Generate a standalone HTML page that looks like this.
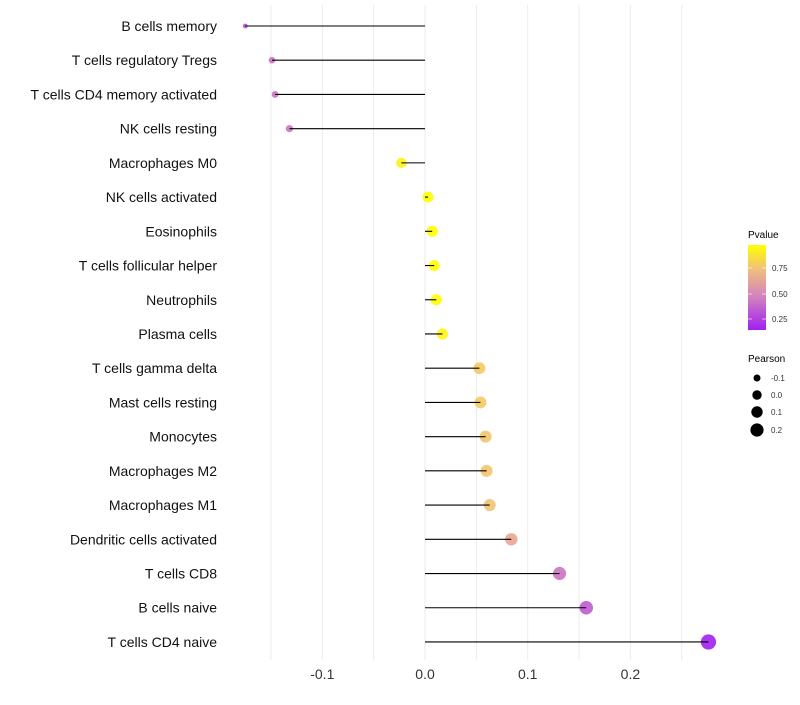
<!DOCTYPE html>
<html><head><meta charset="utf-8"><style>
body{margin:0;background:#fff;font-family:"Liberation Sans",sans-serif}
</style></head><body>
<svg id="chart" width="800" height="700" xmlns="http://www.w3.org/2000/svg">
<defs><linearGradient id="pg" x1="0" y1="1" x2="0" y2="0">
<stop offset="0" stop-color="#a020f0"/><stop offset="0.38" stop-color="#d080c0"/><stop offset="0.7" stop-color="#f0bc80"/><stop offset="1" stop-color="#ffff00"/></linearGradient></defs>
<g id="grid"></g><g id="points"></g><g id="marks"></g><g id="labels"></g>
<g>
<text x="748" y="238" font-size="10">Pvalue</text>
<rect x="748" y="245" width="18" height="85" fill="url(#pg)"/>
<g font-size="8" fill="#333">
<text x="772" y="271">0.75</text><text x="772" y="297">0.50</text><text x="772" y="322">0.25</text></g>
<g stroke="#fff" stroke-opacity="0.6"><line x1="748" x2="752" y1="268" y2="268"/><line x1="762" x2="766" y1="268" y2="268"/><line x1="748" x2="752" y1="294" y2="294"/><line x1="762" x2="766" y1="294" y2="294"/><line x1="748" x2="752" y1="319" y2="319"/><line x1="762" x2="766" y1="319" y2="319"/></g>
<text x="748" y="362" font-size="10">Pearson</text>
<circle cx="757" cy="378" r="3.5"/><circle cx="757" cy="395" r="4.7"/><circle cx="757" cy="412" r="5.7"/><circle cx="757" cy="430" r="6.6"/>
<g font-size="8" fill="#333"><text x="771" y="381">-0.1</text><text x="771" y="398">0.0</text><text x="771" y="415">0.1</text><text x="771" y="433">0.2</text></g>
</g>
</svg>
<script>
const categories=["B cells memory","T cells regulatory  Tregs","T cells CD4 memory activated","NK cells resting","Macrophages M0","NK cells activated","Eosinophils","T cells follicular helper","Neutrophils","Plasma cells","T cells gamma delta","Mast cells resting","Monocytes","Macrophages M2","Macrophages M1","Dendritic cells activated","T cells CD8","B cells naive","T cells CD4 naive"];
const pearson=[-0.175,-0.149,-0.146,-0.132,-0.023,0.003,0.007,0.009,0.011,0.017,0.053,0.054,0.059,0.060,0.063,0.084,0.131,0.157,0.276];
const pvalue=[0.36,0.47,0.48,0.50,0.93,0.99,0.98,0.97,0.97,0.94,0.80,0.80,0.78,0.78,0.77,0.68,0.48,0.40,0.20];
const ticks=[-0.1,0,0.1,0.2];
const gridVals=[-0.15,-0.1,-0.05,0,0.05,0.1,0.15,0.2,0.25];
const NS="http://www.w3.org/2000/svg";
const x=v=>425+v*1027;
const y=i=>26+i*34.22;
function rad(v){return 1.8+5.8*Math.sqrt(Math.max(0,(v+0.18)/0.456));}
function col(p){
 const stops=[[0.21,[160,32,240]],[0.5,[208,120,192]],[0.75,[240,188,128]],[0.975,[255,255,0]]];
 if(p<=stops[0][0])return "rgb(160,32,240)";
 for(let k=1;k<stops.length;k++){if(p<=stops[k][0]){const a=stops[k-1],b=stops[k],t=(p-a[0])/(b[0]-a[0]);return "rgb("+a[1].map((c,j)=>Math.round(c+(b[1][j]-c)*t)).join(",")+")";}}
 return "rgb(255,255,0)";}
function el(t,a,parent){const e=document.createElementNS(NS,t);for(const k in a)e.setAttribute(k,a[k]);parent.appendChild(e);return e;}
const grid=document.getElementById('grid'),marks=document.getElementById('marks'),points=document.getElementById('points'),labels=document.getElementById('labels');
gridVals.forEach(v=>{const l=el('line',{x1:x(v),x2:x(v),y1:5,y2:660,stroke:'#ebebeb','stroke-width':1},grid);

});
ticks.forEach(v=>{const t=el('text',{x:x(v),y:679,'font-size':14,'text-anchor':'middle',fill:'#333'},labels);t.textContent=v===0?"0.0":String(v);

});
categories.forEach((c,i)=>{
 const t=el('text',{x:217,y:y(i)+5,'font-size':14,'text-anchor':'end',fill:'#111'},labels);t.textContent=c;
 
 
 const p=el('circle',{cx:x(pearson[i]),cy:y(i),r:rad(pearson[i]),fill:col(pvalue[i]),'fill-opacity':0.9},points);
 
 
 const l=el('line',{x1:x(0),x2:x(pearson[i]),y1:y(i),y2:y(i),stroke:'#000','stroke-width':1.1},marks);
 
 
});
</script>
</body></html>
